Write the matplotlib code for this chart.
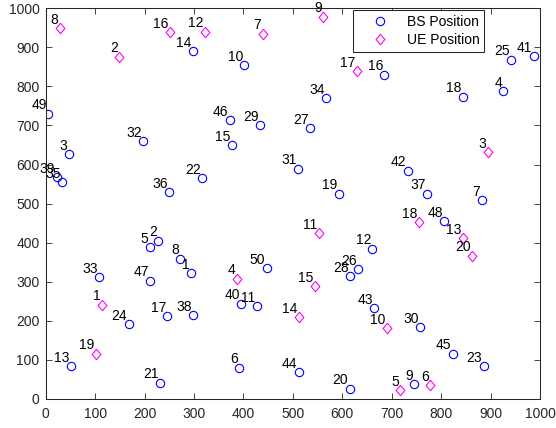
import numpy as np
import matplotlib
matplotlib.use("Agg")
import matplotlib.pyplot as plt

# -------------------------------
# DATA
# -------------------------------
bs_x = [294, 228, 47, 926, 210, 391, 882, 272, 745, 402,
        427, 661, 51, 298, 377, 685, 246, 844, 593, 615,
        231, 317, 886, 168, 942, 632, 535, 616, 433, 757,
        511, 197, 108, 568, 33, 250, 771, 298, 22, 396,
        987, 733, 665, 512, 824, 372, 212, 806, 5, 447]
bs_y = [322, 405, 626, 787, 389, 80, 508, 359, 38, 855,
        238, 385, 84, 890, 650, 830, 212, 774, 525, 26,
        42, 565, 84, 192, 868, 333, 693, 314, 701, 183,
        589, 660, 311, 769, 555, 529, 525, 215, 567, 244,
        878, 584, 232, 69, 116, 713, 303, 455, 730, 334]

ue_x = [114, 149, 894, 387, 717, 778, 439, 28, 561, 690,
        553, 323, 844, 512, 544, 252, 629, 755, 101, 863]
ue_y = [241, 876, 631, 308, 22, 35, 935, 949, 978, 181,
        425, 940, 412, 209, 288, 938, 839, 452, 116, 367]

bs_ids = list(range(1, len(bs_x) + 1))
ue_ids = list(range(1, len(ue_x) + 1))

# -------------------------------
# STYLE
# -------------------------------
plt.rcParams['font.family'] = ['Liberation Sans', 'DejaVu Sans']
plt.rcParams['font.size'] = 10
axis_col = '#262626'
diamond = [(0, 1), (0.84, 0), (0, -1), (-0.84, 0), (0, 1)]

fig = plt.figure(figsize=(5.56, 4.28), dpi=100)
ax = fig.add_axes([0.0822, 0.0678, 0.889, 0.913])

ax.plot(bs_x, bs_y, linestyle='none', marker='o', markersize=6,
        markerfacecolor='none', markeredgecolor=(0, 0, 1),
        markeredgewidth=0.8, label='BS Position')
ax.plot(ue_x, ue_y, linestyle='none', marker=diamond, markersize=7.5,
        markerfacecolor='none', markeredgecolor=(1, 0, 1),
        markeredgewidth=0.8, label='UE Position')

# number labels, up-left of each marker
for i, x, y in zip(bs_ids, bs_x, bs_y):
    ax.annotate(str(i), (x, y), xytext=(-1, 6), textcoords='offset points',
                ha='right', va='center', fontsize=10, color='black')
for i, x, y in zip(ue_ids, ue_x, ue_y):
    ax.annotate(str(i), (x, y), xytext=(-1, 6), textcoords='offset points',
                ha='right', va='center', fontsize=10, color='black')

ax.set_xlim(0, 1000)
ax.set_ylim(0, 1000)
ax.set_xticks(np.arange(0, 1001, 100))
ax.set_yticks(np.arange(0, 1001, 100))

for s in ax.spines.values():
    s.set_color(axis_col)
    s.set_linewidth(0.75)
ax.tick_params(direction='in', top=True, right=True, length=4, width=0.6,
               color=axis_col, labelcolor=axis_col, labelsize=10)
ax.tick_params(axis='x', pad=6)
ax.tick_params(axis='y', pad=4.5)

leg = ax.legend(loc='upper right', bbox_to_anchor=(484.3 / 556, 1 - 10.3 / 428),
                bbox_transform=fig.transFigure, borderaxespad=0,
                fancybox=False, framealpha=1, edgecolor=axis_col,
                handlelength=3.1, handletextpad=0.38, borderpad=0.35,
                labelspacing=0.3, fontsize=10)
leg.get_frame().set_linewidth(0.75)

fig.savefig('out.png', dpi=100)
